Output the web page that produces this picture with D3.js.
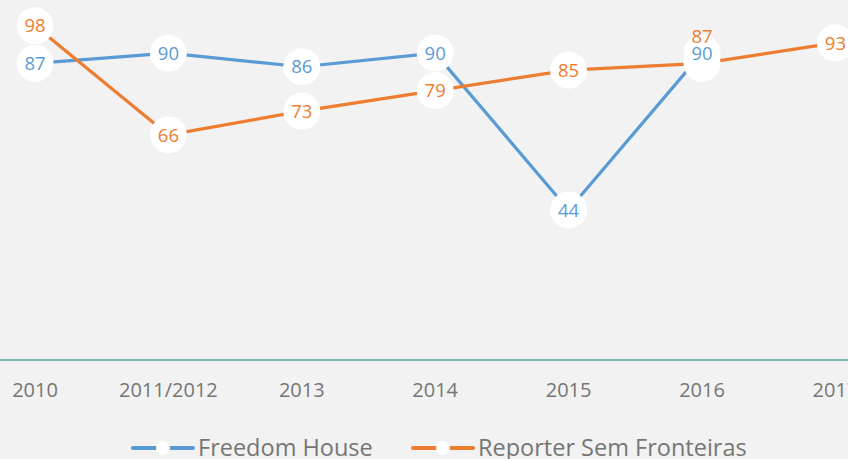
<!DOCTYPE html>
<html>
<head>
<meta charset="utf-8">
<script src="https://cdn.jsdelivr.net/npm/d3@7"></script>
<style>
  html, body { margin: 0; padding: 0; background: #f1f2f1; }
  svg { display: block; font-family: "Open Sans", "DejaVu Sans", sans-serif; }
</style>
</head>
<body>
<svg id="chart" width="848" height="459"></svg>
<script>
// categories and series
var years = ["2010", "2011/2012", "2013", "2014", "2015", "2016", "2017"];
var freedomHouse = [87, 90, 86, 90, 44, 90, null];
var reporterSF = [98, 66, 73, 79, 85, 87, 93];
var seriesNames = ["Freedom House", "Reporter Sem Fronteiras"];
var seriesColors = ["#5b9bd5", "#ed7d31"];

var svg = d3.select("#chart")
  , width = 848
  , height = 459
  , radius = 18.5;

var x = d3.scalePoint().domain(years).range([35, 835.4]);
var y = d3.scaleLinear().domain([0, 100]).range([360, 19]);

svg.append("rect")
  .attr("width", width).attr("height", height)
  .attr("fill", "#f1f2f1");

// x axis line + labels
svg.append("line")
  .attr("x1", 0).attr("x2", width)
  .attr("y1", y(0)).attr("y2", y(0))
  .attr("stroke", "#5ba39c")
  .attr("stroke-width", 1.5);

svg.append("g").selectAll("text")
  .data(years)
  .enter().append("text")
  .attr("x", function(d){ return x(d); })
  .attr("y", 397)
  .attr("text-anchor", "middle")
  .attr("fill", "#767676")
  .style("font-size", "20px")
  .text(function(d){ return d; });

function toPoints(vals){
  return vals.map(function(v, i){ return {year: years[i], v: v}; })
    .filter(function(d){ return d.v != null; });
}
var series = [toPoints(freedomHouse), toPoints(reporterSF)];

var line = d3.line()
  .x(function(d){ return x(d.year); })
  .y(function(d){ return y(d.v); });

series.forEach(function(pts, k){
  svg.append("path")
    .datum(pts)
    .attr("fill", "none")
    .attr("stroke", seriesColors[k])
    .attr("stroke-width", 3.2)
    .attr("stroke-linejoin", "round")
    .attr("d", line);
});

series.forEach(function(pts, k){
  svg.append("g").selectAll("circle")
    .data(pts)
    .enter().append("circle")
    .attr("cx", function(d){ return x(d.year); })
    .attr("cy", function(d){ return y(d.v); })
    .attr("r", radius)
    .attr("fill", "#ffffff");
});

series.forEach(function(pts, k){
  svg.append("g").selectAll("text")
    .data(pts)
    .enter().append("text")
    .attr("x", function(d){ return x(d.year); })
    .attr("y", function(d){
      // orange 2016 label sits above its point
      var off = (k == 1 && d.year == "2016") ? -27 : 0;
      return y(d.v) + off;
    })
    .attr("dy", "0.36em")
    .attr("text-anchor", "middle")
    .attr("fill", seriesColors[k])
    .style("font-size", "18.5px")
    .text(function(d){ return d.v; });
});

// legend
var legend = svg.append("g").attr("id", "legend");
var legendX = [133, 413];
seriesNames.forEach(function(name, k){
  var g = legend.append("g").attr("transform", "translate(" + legendX[k] + ",448)");
  g.append("line")
    .attr("x1", 0).attr("x2", 60)
    .attr("stroke", seriesColors[k])
    .attr("stroke-width", 4)
    .attr("stroke-linecap", "round");
  g.append("circle")
    .attr("cx", 30).attr("r", 7)
    .attr("fill", "#ffffff");
  g.append("text")
    .attr("x", 65)
    .attr("y", 8)
    .attr("fill", "#767676")
    .style("font-size", "23.5px")
    .text(name);
});
</script>
</body>
</html>
